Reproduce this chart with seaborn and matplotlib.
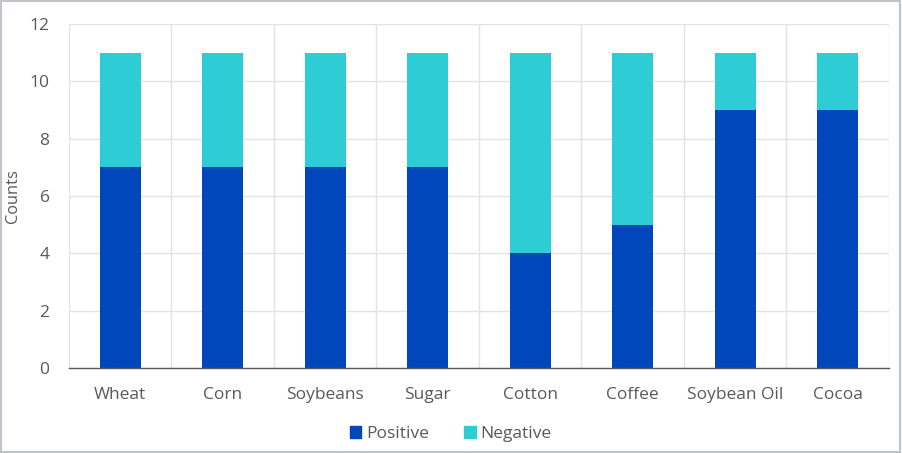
import numpy as np
import pandas as pd
import matplotlib
matplotlib.use("Agg")
import matplotlib.pyplot as plt
import seaborn as sns
from matplotlib.patches import Patch

# data
commodities = ["Wheat", "Corn", "Soybeans", "Sugar", "Cotton", "Coffee", "Soybean Oil", "Cocoa"]
positive = [7, 7, 7, 7, 4, 5, 9, 9]
negative = [4, 4, 4, 4, 7, 6, 2, 2]

pos_color = "#0047BB"
neg_color = "#2ECCD4"
text_color = "#595959"

df = pd.DataFrame({"commodity": commodities, "Positive": positive, "Negative": negative})
df["total"] = df["Positive"] + df["Negative"]

sns.set_style("white")
plt.rcParams["font.family"] = ["Open Sans", "DejaVu Sans"]

fig = plt.figure(figsize=(9.02, 4.53), dpi=100)
ax = fig.add_axes([0.0765, 0.1876, 0.909, 0.7594])

# stacked bars: total first (negative on top), then positive
sns.barplot(data=df, x="commodity", y="total", color=neg_color, width=0.4,
            saturation=1, linewidth=0, ax=ax, zorder=3)
sns.barplot(data=df, x="commodity", y="Positive", color=pos_color, width=0.4,
            saturation=1, linewidth=0, ax=ax, zorder=3)

ax.set_ylim(0, 12)
ax.set_yticks(np.arange(0, 13, 2))
ax.set_xlim(-0.5, len(commodities) - 0.5)
ax.yaxis.grid(True, color="#E3E3E3", linewidth=1, zorder=0)
# category separators
for b in np.arange(-0.5, len(commodities), 1):
    ax.axvline(b, color="#E3E3E3", linewidth=1, zorder=0)

for s in ["top", "right", "left"]:
    ax.spines[s].set_visible(False)
ax.spines["bottom"].set_color("#595959")
ax.spines["bottom"].set_linewidth(1)
ax.spines["bottom"].set_zorder(4)

ax.set_xlabel("")
ax.set_ylabel("Counts", fontsize=11.8, color=text_color)
ax.yaxis.set_label_coords(-0.058, 0.5)
ax.tick_params(axis="both", length=0, labelsize=12.5, colors=text_color)
ax.tick_params(axis="x", pad=14)
ax.tick_params(axis="y", pad=14)

handles = [Patch(color=pos_color, label="Positive"), Patch(color=neg_color, label="Negative")]
fig.legend(handles=handles, loc="lower center", bbox_to_anchor=(0.5, -0.01), ncol=2,
           frameon=False, fontsize=12.5, handlelength=0.65, handleheight=0.65,
           handletextpad=0.3, columnspacing=2.0, labelcolor=text_color)

# outer border of the chart
fig.patches.append(plt.Rectangle((0.001, 0.002), 0.997, 0.996, transform=fig.transFigure,
                                 fill=False, edgecolor="#C0C4CA", linewidth=1.5))

fig.savefig("out.png", dpi=100)
